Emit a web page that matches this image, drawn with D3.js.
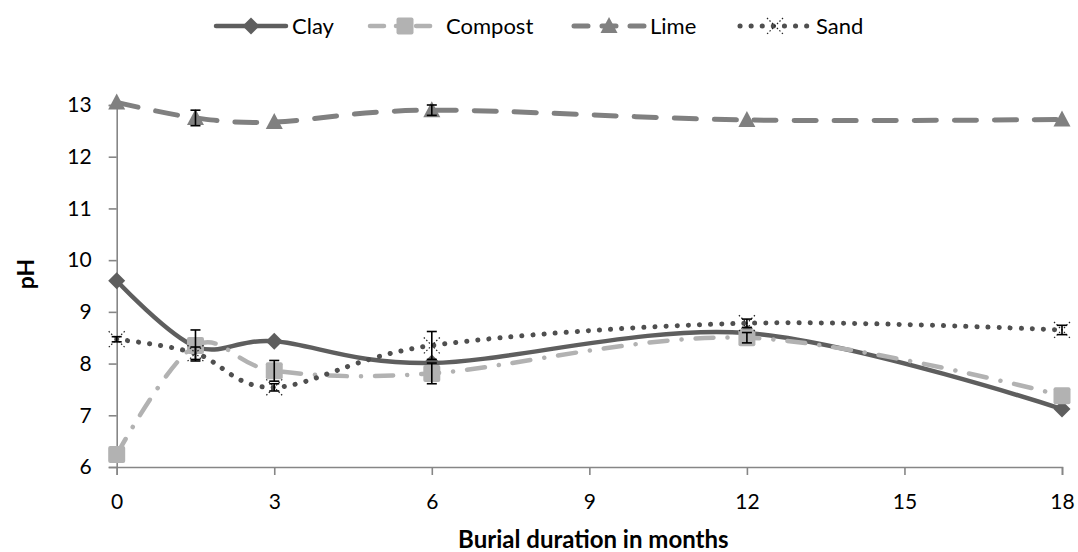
<!DOCTYPE html>
<html>
<head>
<meta charset="utf-8">
<script src="https://cdn.jsdelivr.net/npm/d3@7"></script>
<style>
  html, body { margin: 0; padding: 0; background: #fff; }
  svg { display: block; font-family: Lato, "Open Sans", "Noto Sans", sans-serif; }
</style>
</head>
<body>
<svg id="chart" width="1078" height="552"></svg>
<script>
// Sampling times (months)
const months = [0, 1.5, 3, 6, 12, 18];

// Mean pH per burial medium
const clay    = [9.60, 8.33, 8.43, 8.01, 8.59, 7.12];
const compost = [6.24, 8.35, 7.86, 7.81, 8.50, 7.38];
const lime    = [13.05, 12.75, 12.67, 12.90, 12.71, 12.72];
const sand    = [8.47, 8.20, 7.54, 8.35, 8.78, 8.65];

// Standard deviations (error bars)
const clayErr    = [0, 0, 0, 0, 0, 0];
const compostErr = [0, 0.30, 0.20, 0.20, 0.10, 0];
const limeErr    = [0, 0.15, 0, 0.10, 0, 0];
const sandErr    = [0.05, 0.12, 0.07, 0.27, 0.08, 0.09];

const xTicks = [0, 3, 6, 9, 12, 15, 18];
const yTicks = [6, 7, 8, 9, 10, 11, 12, 13];
const seriesNames = ["Clay", "Compost", "Lime", "Sand"];

const svg = d3.select("#chart");

const x = d3.scaleLinear().domain([0, 18]).range([116.7, 1062]);
const y = d3.scaleLinear().domain([6, 13]).range([467, 105]);

const axisColor = "#868686";
const labelFont = "Lato, 'Open Sans', sans-serif";

// Axes
const xAxis = svg.append("g")
  .attr("transform", `translate(0,${y(6)})`)
  .call(d3.axisBottom(x).tickValues(xTicks).tickSize(8).tickPadding(19).tickFormat(d3.format("d")));
const yAxis = svg.append("g")
  .attr("transform", `translate(${x(0)},0)`)
  .call(d3.axisLeft(y).tickValues(yTicks).tickSize(8).tickPadding(17).tickFormat(d3.format("d")));

[xAxis, yAxis].forEach(g => {
  g.select(".domain").attr("stroke", axisColor).attr("stroke-width", 1.6);
  g.selectAll(".tick line").attr("stroke", axisColor).attr("stroke-width", 1.6);
  g.selectAll(".tick text").attr("fill", "#000").style("font-size", "21px").style("font-family", labelFont);
});

// Axis titles
svg.append("text")
  .attr("x", (x(0) + x(18)) / 2 + 4).attr("y", 548)
  .attr("text-anchor", "middle")
  .style("font-size", "24px").style("font-weight", "bold")
  .text("Burial duration in months");

svg.append("text")
  .attr("transform", `translate(34,${(y(6) + y(13)) / 2 - 12}) rotate(-90)`)
  .attr("text-anchor", "middle")
  .style("font-size", "23px").style("font-weight", "bold")
  .text("pH");

// Marker shapes
const markers = {
  diamond: (g, c) => g.append("path").attr("d", "M0,-8.5L8.5,0L0,8.5L-8.5,0Z").attr("fill", c),
  square: (g, c) => g.append("rect").attr("x", -8.5).attr("y", -8.5).attr("width", 17).attr("height", 17).attr("rx", 2).attr("fill", c),
  triangle: (g, c) => g.append("path").attr("d", "M0,-9L8.5,7L-8.5,7Z").attr("fill", c),
  cross: (g, c) => g.append("path").attr("d", "M-8,-8L8,8M8,-8L-8,8")
      .attr("stroke", "#222").attr("stroke-width", 1.2).attr("stroke-dasharray", "1.5,2").attr("fill", "none")
};

const series = [
  { name: "Clay",    values: clay,    err: clayErr,    color: "#5e5e5e", width: 4.5, dash: null,           marker: "diamond" },
  { name: "Compost", values: compost, err: compostErr, color: "#b2b2b2", width: 4.5, dash: "18,14,0.1,14", marker: "square" },
  { name: "Lime",    values: lime,    err: limeErr,    color: "#808080", width: 5,   dash: "22,18",        marker: "triangle" },
  { name: "Sand",    values: sand,    err: sandErr,    color: "#4f4f4f", width: 5,   dash: "0.1,11",       marker: "cross" }
];

const line = d3.line()
  .x(d => x(d[0]))
  .y(d => y(d[1]))
  .curve(d3.curveCatmullRom.alpha(0));

// Lines
series.forEach(s => {
  const pts = months.map((m, i) => [m, s.values[i]]);
  svg.append("path")
    .datum(pts)
    .attr("d", line)
    .attr("fill", "none")
    .attr("stroke", s.color)
    .attr("stroke-width", s.width)
    .attr("stroke-linecap", "round")
    .attr("stroke-linejoin", "round")
    .attr("stroke-dasharray", s.dash);
});

// Markers
series.forEach(s => {
  months.forEach((m, i) => {
    const g = svg.append("g").attr("transform", `translate(${x(m)},${y(s.values[i])})`);
    markers[s.marker](g, s.color);
  });
});

// Error bars
series.forEach(s => {
  months.forEach((m, i) => {
    const e = s.err[i];
    if (!e) return;
    const cx = x(m), y0 = y(s.values[i] - e), y1 = y(s.values[i] + e);
    const g = svg.append("g").attr("stroke", "#000").attr("stroke-width", 1.6);
    g.append("line").attr("x1", cx).attr("x2", cx).attr("y1", y0).attr("y2", y1);
    g.append("line").attr("x1", cx - 5).attr("x2", cx + 5).attr("y1", y0).attr("y2", y0);
    g.append("line").attr("x1", cx - 5).attr("x2", cx + 5).attr("y1", y1).attr("y2", y1);
  });
});

// Legend
const legendX = [216, 370, 574, 740];
const legendDash = [null, "14,12,0.1,20", "14,14", "0.1,11"];
const legendY = 26;
series.forEach((s, i) => {
  const lx = legendX[i];
  const g = svg.append("g");
  g.append("line")
    .attr("x1", lx).attr("x2", lx + 70)
    .attr("y1", legendY).attr("y2", legendY)
    .attr("stroke", s.color).attr("stroke-width", s.width)
    .attr("stroke-linecap", "round")
    .attr("stroke-dasharray", legendDash[i]);
  const mg = g.append("g").attr("transform", `translate(${lx + 35},${legendY})`);
  markers[s.marker](mg, s.color);
  g.append("text")
    .attr("x", lx + 76).attr("y", legendY)
    .attr("dy", "0.35em")
    .style("font-size", "22px")
    .text(seriesNames[i]);
});
</script>
</body>
</html>
